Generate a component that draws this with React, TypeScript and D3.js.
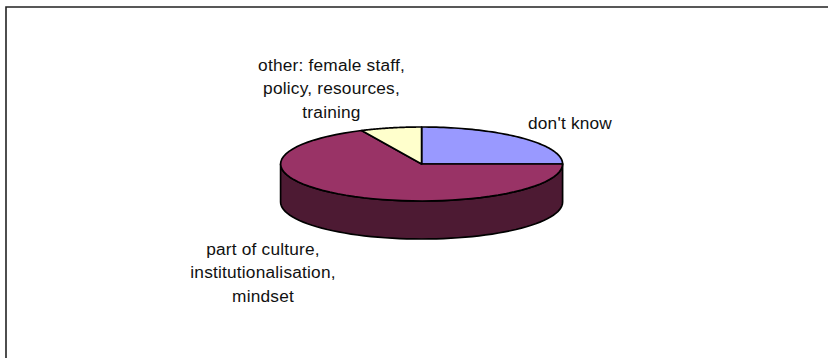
import React from "react";
import * as d3 from "d3";

const categories = ["don't know", "part of culture, institutionalisation, mindset", "other: female staff, policy, resources, training"];
const shares = [25, 68, 7];
const topColors = ["#9999ff", "#993366", "#ffffcc"];
const wallColors = ["#4d4d80", "#4d1a33", "#808066"];
const labelLines = [
  { lines: ["don't know"], x: 570, y: 129 },
  { lines: ["part of culture,", "institutionalisation,", "mindset"], x: 263, y: 255 },
  { lines: ["other: female staff,", "policy, resources,", "training"], x: 331.5, y: 71 },
];

const W = 828, H = 358;
const cx = 421.6, cy = 164, rx = 141, ry = 37, depth = 38;
const lineHeight = 23.3;

// Pie layout starts at twelve o'clock and runs clockwise, unsorted.
const slices = d3.pie<number>().sort(null)(shares);
const px = (a: number) => cx + rx * Math.sin(a);
const py = (a: number) => cy - ry * Math.cos(a);

// Flattened sector outline, sampled along the rim through d3.line.
const toPoint = (a: number): [number, number] => [px(a), py(a)];
const rim = (a0: number, a1: number) =>
  d3.range(0, 61).map((i) => toPoint(a0 + ((a1 - a0) * i) / 60));
const line = d3.line<[number, number]>();

export default function App() {
  const wallStart = Math.PI / 2;
  const wallEnd = (3 * Math.PI) / 2;
  const front = rim(wallStart, wallEnd);
  const wall = [...front, ...front.slice().reverse().map(([x, y]) => [x, y + depth] as [number, number])];
  return (
    <svg width={W} height={H} style={{ position: "absolute", left: 0, top: 0, background: "#fff" }}>
      <path d={`M6 ${H}V7H${W}`} fill="none" stroke="#222" strokeWidth={1.6} />
      <path d={line(wall)! + "Z"} fill={wallColors[1]} stroke="#000" strokeWidth={1.7} strokeLinejoin="round" />
      {slices.map((s, i) => (
        <path
          key={categories[i]}
          d={line([[cx, cy], ...rim(s.startAngle, s.endAngle)])! + "Z"}
          fill={topColors[i]}
          stroke="#000"
          strokeWidth={1.7}
          strokeLinejoin="round"
        />
      ))}
      {labelLines.map((l, i) => (
        <text key={i} textAnchor="middle" fontFamily="Liberation Sans, Arial, sans-serif" fontSize={17.3} letterSpacing={0.2} fill="#111">
          {l.lines.map((t, j) => (
            <tspan key={j} x={l.x} y={l.y + j * lineHeight}>{t}</tspan>
          ))}
        </text>
      ))}
    </svg>
  );
}
